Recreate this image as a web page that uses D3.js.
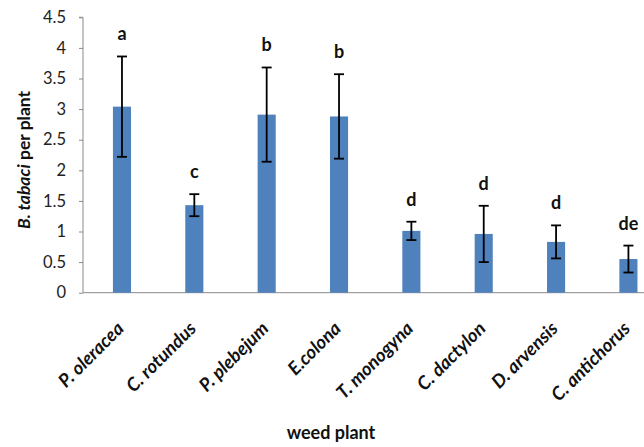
<!DOCTYPE html>
<html>
<head>
<meta charset="utf-8">
<script src="https://cdn.jsdelivr.net/npm/d3@7/dist/d3.min.js"></script>
<style>
  html, body { margin: 0; padding: 0; background: #fff; }
  svg { display: block; }
  text { font-family: Lato, "Open Sans", sans-serif; }
</style>
</head>
<body>
<svg id="chart" width="644" height="447"></svg>
<script>
const categories = ["P. oleracea", "C. rotundus", "P. plebejum", "E.colona", "T. monogyna", "C. dactylon", "D. arvensis", "C. antichorus"];
const means = [3.04, 1.43, 2.91, 2.88, 1.01, 0.96, 0.83, 0.55];
const errors = [0.82, 0.18, 0.77, 0.69, 0.15, 0.46, 0.27, 0.22];
const letters = ["a", "c", "b", "b", "d", "d", "d", "de"];
const yTicks = [0, 0.5, 1, 1.5, 2, 2.5, 3, 3.5, 4, 4.5];

const svg = d3.select("#chart");
const W = 644, H = 447;
const axisX = 83, y0 = 292.7, yTop = 17.3;

const x = d3.scaleBand().domain(categories)
  .range([85.8, 664.6]).paddingInner(0.75).paddingOuter(0.375);
const y = d3.scaleLinear().domain([0, 4.5]).range([y0, yTop]);

// Y axis
const yAxis = d3.axisLeft(y).tickValues(yTicks).tickSize(4).tickPadding(12)
  .tickFormat(d => String(d));
const gy = svg.append("g").attr("transform", `translate(${axisX},0)`).call(yAxis);
gy.select(".domain").attr("stroke", "#898989").attr("stroke-width", 1).attr("d", `M-4,${yTop}H0V${y0}`);
gy.selectAll(".tick line").attr("stroke", "#898989");
gy.selectAll(".tick text").attr("fill", "#222").style("font-size", "16.5px").attr("dx", "-1");

// X axis line
svg.append("line").attr("x1", axisX).attr("x2", W).attr("y1", y0).attr("y2", y0)
  .attr("stroke", "#898989").attr("stroke-width", 1);

// Bars
svg.append("g").selectAll("rect").data(categories).join("rect")
  .attr("x", d => x(d)).attr("width", x.bandwidth())
  .attr("y", (d, i) => y(means[i])).attr("height", (d, i) => y(0) - y(means[i]))
  .attr("fill", "#4F81BD");

// Error bars
const eg = svg.append("g").attr("stroke", "#000").attr("stroke-width", 1.8);
categories.forEach((c, i) => {
  const cx = x(c) + x.bandwidth() / 2;
  const hi = y(means[i] + errors[i]), lo = y(means[i] - errors[i]);
  eg.append("line").attr("x1", cx).attr("x2", cx).attr("y1", hi).attr("y2", lo);
  eg.append("line").attr("x1", cx - 5).attr("x2", cx + 5).attr("y1", hi).attr("y2", hi);
  eg.append("line").attr("x1", cx - 5).attr("x2", cx + 5).attr("y1", lo).attr("y2", lo);
});

// Letters
svg.append("g").selectAll("text").data(categories).join("text")
  .attr("x", d => x(d) + x.bandwidth() / 2)
  .attr("y", (d, i) => y(means[i] + errors[i]) - 16)
  .attr("text-anchor", "middle")
  .style("font-size", "18px").style("font-weight", "bold").attr("fill", "#111")
  .text((d, i) => letters[i]);

// X category labels
svg.append("g").selectAll("text").data(categories).join("text")
  .attr("transform", d => `translate(${x(d) + x.bandwidth() / 2 + 3},${y0 + 37}) rotate(-45)`)
  .attr("text-anchor", "end")
  .style("font-size", "18.5px").style("font-weight", "bold").style("font-style", "italic")
  .attr("fill", "#111")
  .text(d => d);

// X axis title
svg.append("text").attr("x", 331).attr("y", 439).attr("text-anchor", "middle")
  .style("font-size", "18px").style("font-weight", "bold").attr("fill", "#111")
  .text("weed plant");

// Y axis title
const yt = svg.append("text").attr("transform", "translate(30,160) rotate(-90)")
  .attr("text-anchor", "middle").style("font-size", "17.5px").style("font-weight", "bold").attr("fill", "#111");
yt.append("tspan").style("font-style", "italic").text("B. tabaci");
yt.append("tspan").text(" per plant");
</script>
</body>
</html>
